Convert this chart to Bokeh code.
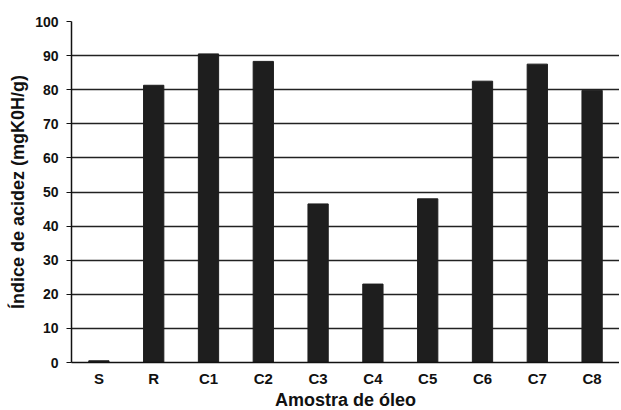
from bokeh.plotting import figure
from bokeh.embed import file_html
from bokeh.resources import INLINE
from bokeh.models import FixedTicker

categories = ["S", "R", "C1", "C2", "C3", "C4", "C5", "C6", "C7", "C8"]
values = [0.5, 81.3, 90.5, 88.3, 46.5, 23.0, 48.0, 82.5, 87.5, 79.8]
y_ticks = [0, 10, 20, 30, 40, 50, 60, 70, 80, 90, 100]

p = figure(x_range=categories, y_range=(0, 100), output_backend="svg",
           toolbar_location=None, frame_width=548, frame_height=341,
           min_border_left=71, min_border_top=21, min_border_right=0,
           min_border_bottom=0)
p.outline_line_color = None
p.background_fill_color = "white"

p.vbar(x=categories, top=values, width=0.37, color="#1e1e1e", line_color="#1e1e1e")

font = "Liberation Sans"
p.xaxis.axis_label = "Amostra de óleo"
p.yaxis.axis_label = "Índice de acidez (mgK0H/g)"
for ax in (p.xaxis[0], p.yaxis[0]):
    ax.axis_label_text_font = font
    ax.axis_label_text_font_style = "bold"
    ax.axis_label_text_font_size = "18px"
    ax.axis_label_text_color = "#111111"
    ax.major_label_text_font = font
    ax.major_label_text_font_style = "bold"
    ax.major_label_text_color = "#111111"
    ax.axis_line_color = "#111111"
    ax.axis_line_width = 1.5
    ax.minor_tick_line_color = None

p.yaxis.major_label_text_font_size = "14px"
p.xaxis.major_label_text_font_size = "15px"
p.yaxis.ticker = FixedTicker(ticks=y_ticks)
p.yaxis.major_tick_line_color = "#111111"
p.yaxis.major_tick_in = 0
p.yaxis.major_tick_out = 5
p.yaxis.axis_label_standoff = 4
p.yaxis.major_label_standoff = 8
p.xaxis.major_tick_line_color = None
p.xaxis.major_label_standoff = 1
p.xaxis.axis_label_standoff = 0

p.xgrid.grid_line_color = None
p.ygrid.ticker = FixedTicker(ticks=[10, 20, 30, 40, 50, 60, 70, 80, 90])
p.ygrid.grid_line_color = "#222222"
p.ygrid.grid_line_width = 1.3
p.ygrid.level = "underlay"

open("out.html", "w").write(file_html(p, INLINE))
